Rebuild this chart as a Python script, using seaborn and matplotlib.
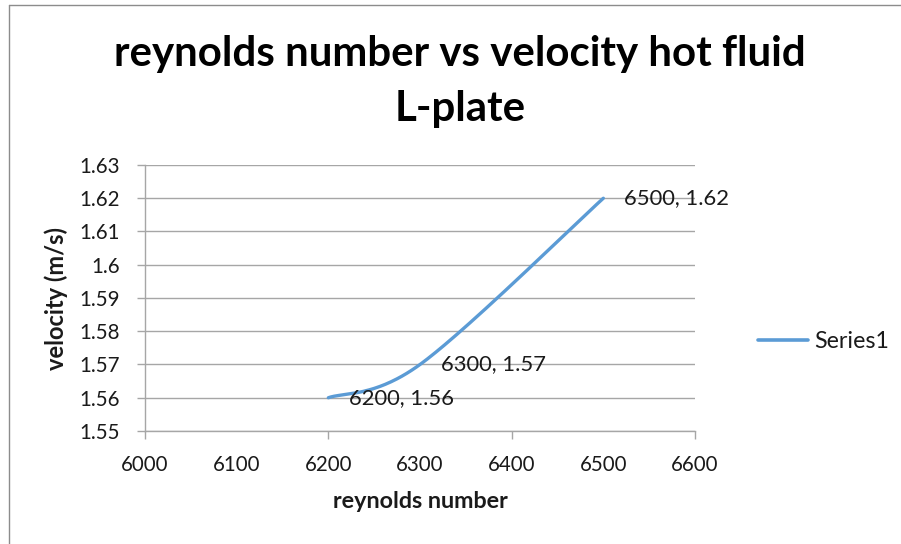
import numpy as np
import pandas as pd
import matplotlib
matplotlib.use("Agg")
import matplotlib.pyplot as plt
import seaborn as sns
from matplotlib.ticker import FixedLocator, FixedFormatter
from matplotlib.lines import Line2D

# ---------------- data ----------------
reynolds = [6200, 6300, 6500]
velocity = [1.56, 1.57, 1.62]
series_name = "Series1"
x_major_ticks = [6000, 6200, 6400, 6600]
x_minor_ticks = [6100, 6300, 6500]
y_ticks = [1.55, 1.56, 1.57, 1.58, 1.59, 1.60, 1.61, 1.62, 1.63]
y_tick_labels = ["1.55", "1.56", "1.57", "1.58", "1.59", "1.6", "1.61", "1.62", "1.63"]
title_lines = ["reynolds number vs velocity hot fluid", "L-plate"]
x_label = "reynolds number"
y_label = "velocity (m/s)"

# ---------------- style ----------------
sns.set_theme(style="white")
plt.rcParams["font.family"] = ["Lato", "DejaVu Sans"]

W, H = 901, 544
DPI = 100
fig = plt.figure(figsize=(W / DPI, H / DPI), dpi=DPI)
renderer = fig.canvas.get_renderer()

def fit_size(text, target_px, weight="normal", base=20.0):
    t = fig.text(0, 0, text, fontsize=base, fontweight=weight)
    w = t.get_window_extent(renderer=renderer).width
    t.remove()
    return base * target_px / w

XMIN, XMAX, YMIN, YMAX = 6000, 6600, 1.55, 1.63
ax_l, ax_r, ax_t, ax_b = 145, 695, 165, 431
ax = fig.add_axes([ax_l / W, (H - ax_b) / H, (ax_r - ax_l) / W, (ax_b - ax_t) / H])
pw, ph = ax_r - ax_l, ax_b - ax_t

# smoothed line (Excel-style bezier through the data points, in screen space)
px = [(x - XMIN) / (XMAX - XMIN) * pw for x in reynolds]
py = [(y - YMIN) / (YMAX - YMIN) * ph for y in velocity]
P = np.column_stack([px, py])
n = len(P)
curve = []
for i in range(n - 1):
    p0 = P[max(i - 1, 0)]
    p1 = P[i]
    p2 = P[i + 1]
    p3 = P[min(i + 2, n - 1)]
    c1 = p1 + (p2 - p0) / 6.0
    c2 = p2 - (p3 - p1) / 6.0
    t = np.linspace(0, 1, 80)[:, None]
    seg = ((1 - t) ** 3) * p1 + 3 * ((1 - t) ** 2) * t * c1 + 3 * (1 - t) * t ** 2 * c2 + t ** 3 * p2
    curve.append(seg if i == 0 else seg[1:])
curve = np.vstack(curve)
df = pd.DataFrame({
    "reynolds number": XMIN + curve[:, 0] / pw * (XMAX - XMIN),
    "velocity": YMIN + curve[:, 1] / ph * (YMAX - YMIN),
    "series": series_name,
})

line_color = "#5B9BD5"
grid_color = "#A6A6A6"
text_color = "#1a1a1a"

sns.lineplot(data=df, x="reynolds number", y="velocity", hue="series",
             palette=[line_color], sort=False, estimator=None, linewidth=2.4,
             legend=False, ax=ax)

ax.set_xlim(XMIN, XMAX)
ax.set_ylim(YMIN, YMAX)

tick_fs = (fit_size("6100", 46) + fit_size("1.63", 42)) / 2

ax.xaxis.set_major_locator(FixedLocator(x_major_ticks))
ax.xaxis.set_major_formatter(FixedFormatter([str(v) for v in x_major_ticks]))
ax.xaxis.set_minor_locator(FixedLocator(x_minor_ticks))
ax.xaxis.set_minor_formatter(FixedFormatter([str(v) for v in x_minor_ticks]))
ax.set_yticks(y_ticks)
ax.set_yticklabels(y_tick_labels)

ax.tick_params(axis="x", which="major", direction="out", length=5.8, width=1,
               color=grid_color, pad=11.5, labelsize=tick_fs, labelcolor=text_color, bottom=True)
ax.tick_params(axis="x", which="minor", length=0, pad=17.3,
               labelsize=tick_fs, labelcolor=text_color, bottom=True)
ax.tick_params(axis="y", which="major", direction="out", length=5.8, width=1,
               color=grid_color, pad=12.2, labelsize=tick_fs, labelcolor=text_color, left=True)

ax.grid(axis="y", color=grid_color, linewidth=1)
ax.grid(axis="x", visible=False)
for s in ["top", "right"]:
    ax.spines[s].set_visible(False)
for s in ["left", "bottom"]:
    ax.spines[s].set_color(grid_color)
    ax.spines[s].set_linewidth(1)

# data labels
lab_fs = fit_size("6500, 1.62", 105)
for x, v in zip(reynolds, velocity):
    ax.annotate(f"{x}, {v:g}", (x, v), xytext=(21, 0), textcoords="offset pixels",
                ha="left", va="center", fontsize=lab_fs, color=text_color)

# axis labels
xl_fs = fit_size(x_label, 176, weight="bold")
yl_fs = fit_size(y_label, 143, weight="bold")
ax.set_xlabel(x_label, fontsize=xl_fs, fontweight="bold", color=text_color)
ax.xaxis.label.set_va("center")
ax.xaxis.set_label_coords(0.5, (ax_b - 501) / ph)
ax.set_ylabel(y_label, fontsize=yl_fs, fontweight="bold", color=text_color)
ax.yaxis.label.set_va("center")
ax.yaxis.label.set_ha("center")
ax.yaxis.set_label_coords((56 - ax_l) / pw, 0.5)

# title
title_fs = fit_size(title_lines[0], 693, weight="bold")
fig.text(460 / W, 1 - 66 / H, title_lines[0], ha="center", va="baseline",
         fontsize=title_fs, fontweight="bold", color="black")
fig.text(460 / W, 1 - 121 / H, title_lines[1], ha="center", va="baseline",
         fontsize=title_fs, fontweight="bold", color="black")

# legend
leg_fs = fit_size(series_name, 75)
handle = Line2D([], [], color=line_color, linewidth=2.6)
fs_px = leg_fs * DPI / 72
fig.legend(handles=[handle], labels=[series_name], loc="center left",
           bbox_to_anchor=(758 / W, 1 - 342 / H), frameon=False,
           fontsize=leg_fs, handlelength=50 / fs_px, handletextpad=6 / fs_px,
           borderpad=0, borderaxespad=0, labelcolor=text_color)

# chart-area border (left and top edges visible)
fig.add_artist(Line2D([8.5 / W, 8.5 / W], [0, 1 - 5 / H], transform=fig.transFigure,
                      color="#8c8c8c", linewidth=1))
fig.add_artist(Line2D([8.5 / W, 1], [1 - 5 / H, 1 - 5 / H], transform=fig.transFigure,
                      color="#8c8c8c", linewidth=1))

fig.savefig("out.png", dpi=DPI)
